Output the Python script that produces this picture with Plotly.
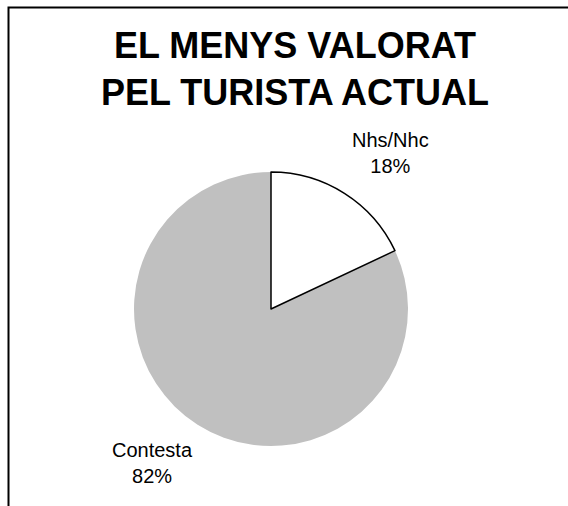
import plotly.graph_objects as go

# Data
labels = ["Contesta", "Nhs/Nhc"]
values = [82, 18]
colors = ["#C0C0C0", "#FFFFFF"]
title_lines = ["EL MENYS VALORAT", "PEL TURISTA ACTUAL"]

W, H = 568, 506
cx, cy, r = 271, 309, 137

fig = go.Figure()
fig.add_trace(go.Pie(
    labels=labels,
    values=values,
    sort=False,
    direction="clockwise",
    rotation=values[1] / sum(values) * 360,
    marker=dict(colors=colors,
                line=dict(color=["#C0C0C0", "#000000"], width=[0, 1.5])),
    textinfo="none",
    hoverinfo="label+percent",
    showlegend=False,
    domain=dict(x=[(cx - r) / W, (cx + r) / W],
                y=[1 - (cy + r) / H, 1 - (cy - r) / H]),
))

font = "Liberation Sans, Arial, sans-serif"

# Title
fig.add_annotation(
    text="<b>" + "<br>".join(title_lines) + "</b>",
    x=295 / W, y=1 - 69 / H, xref="paper", yref="paper",
    showarrow=False, xanchor="center", yanchor="middle",
    font=dict(family=font, size=36, color="#000000"),
)

# Slice labels with percentages
total = sum(values)
label_pos = {"Nhs/Nhc": (390, 153), "Contesta": (152, 463)}
for lab, val in zip(labels, values):
    x, y = label_pos[lab]
    fig.add_annotation(
        text=f"{lab}<br>{round(val / total * 100)}%",
        x=x / W, y=1 - y / H, xref="paper", yref="paper",
        showarrow=False, xanchor="center", yanchor="middle",
        font=dict(family=font, size=20, color="#000000"),
    )

# Chart frame (left and top edges)
fig.add_shape(type="path", xref="paper", yref="paper",
              path=f"M {8.5 / W} 0 L {8.5 / W} {1 - 7.5 / H} L 1.01 {1 - 7.5 / H}",
              line=dict(color="#000000", width=2))

fig.update_layout(
    width=W, height=H,
    margin=dict(l=0, r=0, t=0, b=0),
    paper_bgcolor="#FFFFFF",
    plot_bgcolor="#FFFFFF",
)

fig.write_html("out.html")
